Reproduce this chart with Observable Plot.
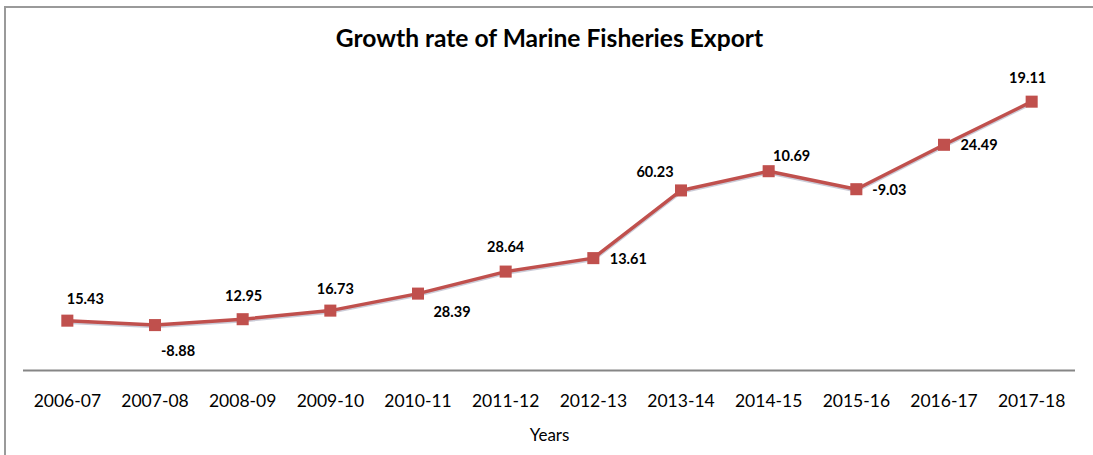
<!DOCTYPE html>
<html>
<head>
<meta charset="utf-8">
<script src="https://cdn.jsdelivr.net/npm/d3@7"></script>
<script src="https://cdn.jsdelivr.net/npm/@observablehq/plot@0.6"></script>
<style>
  html, body { margin: 0; padding: 0; background: #fff; width: 1093px; height: 455px; overflow: hidden; }
  #frame { position: absolute; left: 4px; top: 6px; width: 1200px; height: 600px;
           border-top: 2px solid #9a9a9a; border-left: 2px solid #9a9a9a; }
  #title { position: absolute; left: 0; width: 1099px; top: 22px; text-align: center;
           font-family: Lato, sans-serif; font-weight: bold; font-size: 24.6px; color: #000; line-height: 32px; }
  #chart { position: absolute; left: 0; top: 60px; }
</style>
</head>
<body>
<div id="frame"></div>
<div id="title">Growth rate of Marine Fisheries Export</div>
<div id="chart"></div>
<script>
// Years (categories)
const years = ["2006-07","2007-08","2008-09","2009-10","2010-11","2011-12","2012-13","2013-14","2014-15","2015-16","2016-17","2017-18"];
// Plotted export values (line height)
const exportValues = [8363, 7620, 8607, 10048, 12901, 16597, 18856, 30213, 33441, 30420, 37870, 45107];
// Growth rate labels (%)
const growthRates = [15.43, -8.88, 12.95, 16.73, 28.39, 28.64, 13.61, 60.23, 10.69, -9.03, 24.49, 19.11];

const data = years.map((y, i) => ({year: y, value: exportValues[i], rate: growthRates[i]}));

// label placement offsets (style only)
const labelOffsets = [[18,-21],[23,26],[1,-23],[5,-21],[34,19],[0,-24],[35,1],[-26,-18],[23,-15],[33,1],[35,1],[-4,-23]];

const red = "#C0504D";
const labelMarks = data.map((d, i) => Plot.text([d], {
  x: "year", y: "value", text: d => d.rate.toFixed(2),
  dx: labelOffsets[i][0], dy: labelOffsets[i][1],
  fontWeight: "bold", fontSize: 14.5, fill: "#000"
}));

const chart = Plot.plot({
  width: 1093,
  height: 395,
  marginTop: 12,
  marginBottom: 85,
  marginLeft: 23,
  marginRight: 18,
  style: {fontFamily: "Lato, sans-serif", background: "transparent", overflow: "visible"},
  x: {type: "band", domain: years, padding: 0, round: false, label: null},
  y: {domain: [0, 50000], axis: null},
  marks: [
    Plot.ruleY([0], {stroke: "#868686", strokeWidth: 2}),
    Plot.axisX({tickSize: 0, tickPadding: 24, fontSize: 17.5, fill: "#000", label: null}),
    Plot.text(["Years"], {frameAnchor: "bottom", lineAnchor: "middle", dy: 65, fontSize: 17, fill: "#000"}),
    Plot.line(data, {x: "year", y: "value", stroke: "#6a6a8c", strokeOpacity: 0.35, strokeWidth: 3.5, dy: 1.5}),
    Plot.line(data, {x: "year", y: "value", stroke: red, strokeWidth: 3.5}),
    Plot.dot(data, {x: "year", y: "value", symbol: "square", r: 6.8, fill: red, stroke: "none"}),
    ...labelMarks
  ]
});
document.getElementById("chart").appendChild(chart);
</script>
</body>
</html>
